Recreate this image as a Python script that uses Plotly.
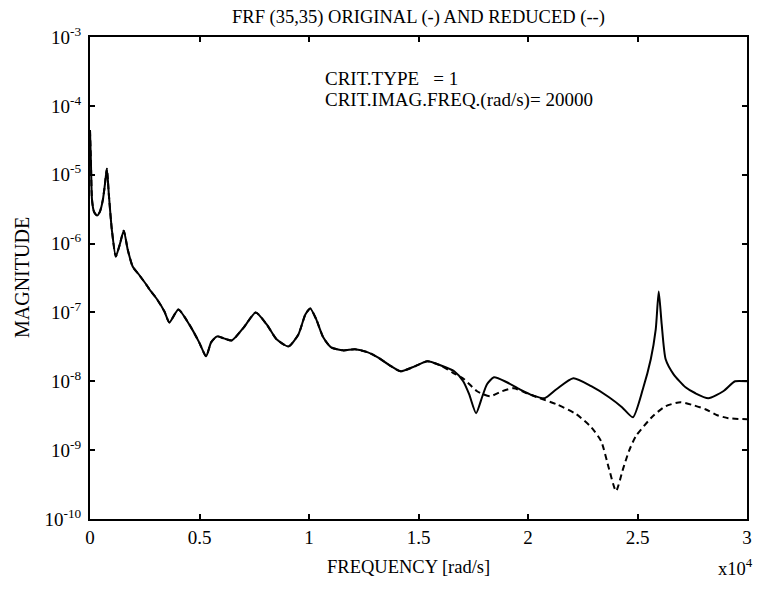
import plotly.graph_objects as go

# Original FRF (solid) – frequency [rad/s] and log10(magnitude)
freq_orig = [0, 45, 91, 181, 317, 453, 589, 680, 770, 861, 997, 1178, 1360, 1541, 1722,
             1949, 2266, 2629, 2719, 3036, 3399, 3626, 4034, 4532, 4985, 5302, 5529, 5801,
             6118, 6481, 7024, 7568, 8067, 8520, 9064, 9517, 9834, 10060, 10332, 10650,
             11012, 11556, 12100, 12690, 13143, 13686, 14185, 14729, 15409, 15998, 16632,
             17040, 17312, 17630, 17902, 18128, 18445, 19034, 19624, 20213, 20757, 21300,
             22071, 22887, 23702, 24292, 24790, 25243, 25606, 25833, 25969, 26105, 26286,
             26649, 27193, 27646, 28235, 28915, 29459, 30000]
logmag_orig = [-4.35, -4.855, -5.362, -5.536, -5.594, -5.536, -5.362, -5.145, -4.913, -5.290,
               -5.797, -6.188, -6.014, -5.812, -6.087, -6.333, -6.464, -6.623, -6.667, -6.797,
               -6.986, -7.145, -6.957, -7.174, -7.435, -7.638, -7.435, -7.348, -7.377, -7.406,
               -7.217, -7.0, -7.174, -7.391, -7.493, -7.319, -7.029, -6.942, -7.101, -7.362,
               -7.507, -7.551, -7.536, -7.580, -7.652, -7.768, -7.855, -7.797, -7.710, -7.768,
               -7.855, -8.0, -8.188, -8.464, -8.232, -8.043, -7.942, -8.014, -8.116, -8.203,
               -8.246, -8.116, -7.957, -8.072, -8.232, -8.377, -8.522, -8.116, -7.681, -7.246,
               -6.696, -7.174, -7.681, -7.899, -8.087, -8.174, -8.246, -8.145, -8.0, -8.0]

# Reduced FRF (dashed) – diverges from the original above ~1.5e4 rad/s
freq_red = [15409, 15998, 16542, 17085, 17675, 18264, 18808, 19351, 19941, 20530, 21300,
            22206, 22887, 23340, 23702, 24020, 24337, 24609, 24926, 25697, 26286, 26966,
            27555, 28099, 28643, 29142, 30000]
logmag_red = [-7.710, -7.768, -7.870, -7.971, -8.145, -8.217, -8.145, -8.101, -8.174, -8.246,
              -8.333, -8.478, -8.667, -8.870, -9.275, -9.594, -9.275, -9.014, -8.797, -8.507,
              -8.362, -8.304, -8.348, -8.406, -8.493, -8.536, -8.551]

x_tickvals = [0, 5000, 10000, 15000, 20000, 25000, 30000]
x_ticktext = ["0", "0.5", "1", "1.5", "2", "2.5", "3"]
y_exponents = [-3, -4, -5, -6, -7, -8, -9, -10]

mag_orig = [10 ** v for v in logmag_orig]
# reduced model shares the original curve below the divergence point
shared = [(f, m) for f, m in zip(freq_orig, mag_orig) if f < freq_red[0]]
freq_red_full = [f for f, _ in shared] + freq_red
mag_red_full = [m for _, m in shared] + [10 ** v for v in logmag_red]

FONT = "Liberation Serif, Times New Roman, serif"

fig = go.Figure()
fig.add_trace(go.Scatter(x=freq_red_full, y=mag_red_full, mode="lines",
                         line=dict(color="black", width=2, dash="6px,4px", shape="spline", smoothing=0.6),
                         showlegend=False))
fig.add_trace(go.Scatter(x=freq_orig, y=mag_orig, mode="lines",
                         line=dict(color="black", width=2, shape="spline", smoothing=0.6),
                         showlegend=False))

axis_common = dict(showline=True, linecolor="black", linewidth=2, mirror="ticks",
                   ticks="inside", ticklen=5, tickwidth=1.5, tickcolor="black",
                   showgrid=False, zeroline=False,
                   tickfont=dict(family=FONT, size=19, color="black"))

fig.update_layout(
    width=760, height=590,
    margin=dict(l=90, r=8, t=37, b=71),
    plot_bgcolor="white", paper_bgcolor="white",
    xaxis=dict(range=[0, 30000], tickvals=x_tickvals, ticktext=x_ticktext, **axis_common),
    yaxis=dict(type="log", range=[-10, -3],
               tickvals=[10 ** e for e in y_exponents],
               ticktext=["10<sup>%d</sup>" % e for e in y_exponents],
               ticklabelstandoff=3,
               **axis_common),
    showlegend=False,
)

fig.add_annotation(text="FRF (35,35) ORIGINAL (-) AND REDUCED (--)", xref="paper", yref="paper",
                   x=0.5, y=1, yshift=20, xanchor="center", yanchor="middle", showarrow=False,
                   font=dict(family=FONT, size=18.5, color="black"))
fig.add_annotation(text="CRIT.TYPE&nbsp;&nbsp;&nbsp;= 1", xref="paper", yref="paper",
                   x=0.355, y=0.913, xanchor="left", yanchor="middle", showarrow=False,
                   font=dict(family=FONT, size=19, color="black"))
fig.add_annotation(text="CRIT.IMAG.FREQ.(rad/s)= 20000", xref="paper", yref="paper",
                   x=0.355, y=0.870, xanchor="left", yanchor="middle", showarrow=False,
                   font=dict(family=FONT, size=19, color="black"))
fig.add_annotation(text="FREQUENCY [rad/s]", xref="paper", yref="paper",
                   x=0.5, y=0, yshift=-48, xshift=-10, xanchor="center", yanchor="middle", showarrow=False,
                   font=dict(family=FONT, size=18.5, color="black"))
fig.add_annotation(text="x10<sup>4</sup>", xref="paper", yref="paper",
                   x=1, y=0, yshift=-48, xshift=8, xanchor="right", yanchor="middle", showarrow=False,
                   font=dict(family=FONT, size=18.5, color="black"))
fig.add_annotation(text="MAGNITUDE", xref="paper", yref="paper",
                   x=0, y=0.5, xshift=-68, textangle=-90, xanchor="center", yanchor="middle",
                   showarrow=False, font=dict(family=FONT, size=20, color="black"))

fig.write_html("out.html")
